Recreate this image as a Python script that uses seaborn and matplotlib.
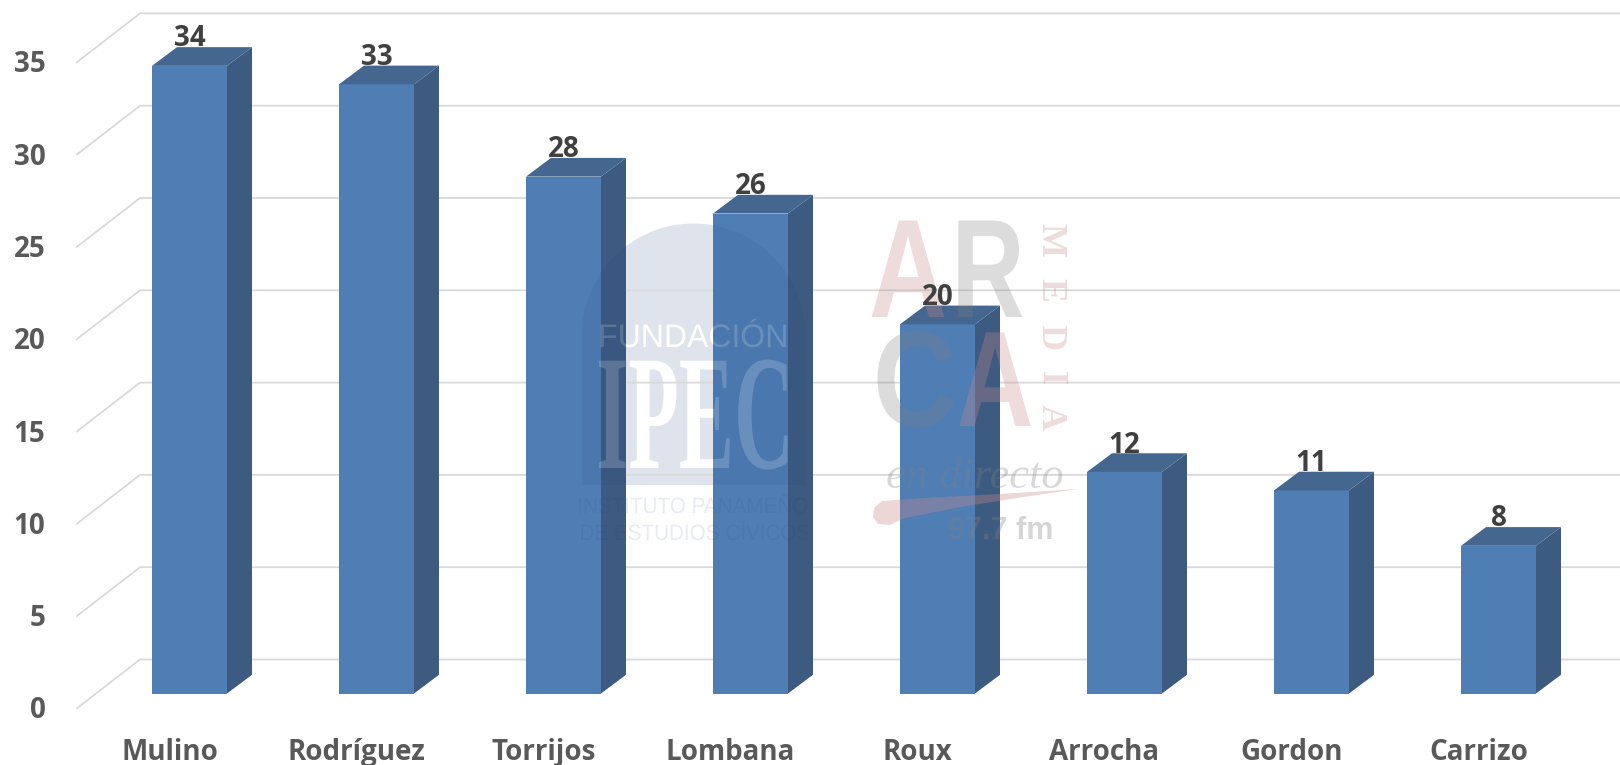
import numpy as np
import pandas as pd
import seaborn as sns
import matplotlib.pyplot as plt
import matplotlib.patheffects as pe
from matplotlib.patches import Polygon
from matplotlib.path import Path
from matplotlib.transforms import Affine2D, IdentityTransform, ScaledTranslation

candidatos = ['Mulino', 'Rodríguez', 'Torrijos', 'Lombana', 'Roux', 'Arrocha', 'Gordon', 'Carrizo']
valores = [34, 33, 28, 26, 20, 12, 11, 8]
ticks_y = [0, 5, 10, 15, 20, 25, 30, 35]

W, H, DPI = 1620, 765, 100
PX_X = 187.0    # pixeles entre barras
PX_Y = 18.46    # pixeles por unidad
DX, DY = 25 / PX_X, 18.7 / PX_Y     # fondo de cada barra
PARED_Y = 34 / PX_Y
FRENTE_Y = 15.5 / PX_Y
FRENTE_X, PARED_X = (76 - 189.5) / PX_X, (140 - 189.5) / PX_X

C_FRENTE, C_LADO, C_TOPE = '#4f7eb5', '#3d5a80', '#44668f'
C_GRID = '#d9d9d9'


class Squeeze(pe.AbstractPathEffect):
    # estrecha el texto en horizontal alrededor de cx (pixeles)
    def __init__(self, sx, cx):
        super().__init__()
        self.sx, self.cx = sx, cx

    def draw_path(self, renderer, gc, tpath, affine, rgbFace=None):
        t = affine + Affine2D().translate(-self.cx, 0).scale(self.sx, 1).translate(self.cx, 0)
        renderer.draw_path(gc, tpath, t, rgbFace)


sns.set_theme(style='white')
plt.rcParams['font.family'] = ['Open Sans', 'DejaVu Sans']

fig = plt.figure(figsize=(W / DPI, H / DPI), dpi=DPI)
ax = fig.add_axes([76 / W, 45 / H, (W - 76) / W, 720 / H])

df = pd.DataFrame({'candidato': candidatos, 'valor': valores})
sns.barplot(data=df, x='candidato', y='valor', color=C_FRENTE, saturation=1, width=75 / PX_X,
            errorbar=None, zorder=3, ax=ax)
ax.set_xlim(FRENTE_X, (W - 189.5) / PX_X)
ax.set_ylim(-(720 - 693.5) / PX_Y, 693.5 / PX_Y)
ax.set_xlabel('')
ax.set_ylabel('')
sns.despine(ax=ax, left=True, bottom=True, top=True, right=True)

# paredes del grafico 3D
for v in ticks_y:
    ax.plot([FRENTE_X, PARED_X, ax.get_xlim()[1]], [v - FRENTE_Y, v + PARED_Y, v + PARED_Y],
            color=C_GRID, lw=1.3, zorder=1, solid_capstyle='butt')

# caras laterales y superiores de las barras
caras = []
for p in ax.patches:
    x0, x1, h = p.get_x(), p.get_x() + p.get_width(), p.get_height()
    p.set_linewidth(0)
    lado = [(x1, 0), (x1 + DX, DY), (x1 + DX, h + DY), (x1, h)]
    tope = [(x0, h), (x0 + DX, h + DY), (x1 + DX, h + DY), (x1, h)]
    frente = [(x0, 0), (x1, 0), (x1, h), (x0, h)]
    ax.add_patch(Polygon(lado, color=C_LADO, lw=0, zorder=3))
    ax.add_patch(Polygon(tope, color=C_TOPE, lw=0, zorder=3))
    caras += [Path(frente + frente[:1], closed=True), Path(lado + lado[:1], closed=True)]
    ax.annotate(f'{h:.0f}', (p.get_x() + p.get_width() / 2, h), xytext=(0, 14), textcoords='offset points',
                ha='center', va='baseline', fontsize=20, fontweight='bold', color='#404040', zorder=8)
zona_barras = Path.make_compound_path(*caras)

ax.set_yticks(ticks_y)
ax.tick_params(axis='y', length=0, pad=22, labelsize=20, labelcolor='#595959')
ax.tick_params(axis='x', length=0, pad=13, labelsize=20, labelcolor='#595959')
for lab in ax.get_yticklabels():
    lab.set_fontweight('bold')
    lab.set_transform(lab.get_transform() + ScaledTranslation(0, -14 / DPI, fig.dpi_scale_trans))
for lab in ax.get_xticklabels():
    lab.set_fontweight('bold')
    lab.set_transform(lab.get_transform() + ScaledTranslation(-20 / DPI, 0, fig.dpi_scale_trans))


# marcas de agua, en pixeles de la imagen
def marca(x, y, s, sx=None, clip=False, **kw):
    t = ax.text(x, H - y, s, transform=IdentityTransform(), ha='center', va='baseline', **kw)
    if sx:
        t.set_path_effects([Squeeze(sx, x)])
    if clip:
        t.set_clip_path(zona_barras, ax.transData)
        t.set_clip_on(True)
    return t


ang = np.linspace(np.pi, 0, 60)
arco = np.column_stack([693.5 + 111.5 * np.cos(ang), H - 335 + 111.5 * np.sin(ang)])
arco = np.vstack([arco, [805, H - 485], [582, H - 485]])
ax.add_patch(Polygon(arco, closed=True, transform=IdentityTransform(), color='#dfe4ec', lw=0, zorder=0.5))
encima = Polygon(arco, closed=True, transform=IdentityTransform(), color='#1f3f77', alpha=0.11, lw=0, zorder=4)
ax.add_patch(encima)
encima.set_clip_path(zona_barras, ax.transData)

for z, alfa, clip in [(0.8, 1, False), (5, 0.18, True)]:
    marca(693, 347, 'FUNDACIÓN', sx=0.98, clip=clip, fontsize=23.5, family='Liberation Sans',
          color='white', alpha=alfa, zorder=z)
    marca(695, 468, 'IPEC', sx=0.505, clip=clip, fontsize=118, family='Liberation Serif', fontweight='bold',
          color='white', alpha=alfa, zorder=z)
marca(693, 513, 'INSTITUTO PANAMEÑO', sx=0.93, fontsize=16, family='Liberation Sans',
      color='#1f3f77', alpha=0.1, zorder=5)
marca(695, 540, 'DE ESTUDIOS CÍVICOS', sx=0.93, fontsize=16, family='Liberation Sans',
      color='#1f3f77', alpha=0.1, zorder=5)

ROSA, GRIS = '#c98a8a', '#808080'
marca(908, 317, 'A', sx=0.77, fontsize=101, family='Liberation Sans', fontweight='bold', color=ROSA, alpha=0.3, zorder=5)
marca(988, 317, 'R', sx=0.72, fontsize=101, family='Liberation Sans', fontweight='bold', color=GRIS, alpha=0.27, zorder=5)
marca(915, 426, 'C', sx=0.86, fontsize=98, family='Liberation Sans', fontweight='bold', color=GRIS, alpha=0.27, zorder=5)
marca(995, 426, 'A', sx=0.78, fontsize=98, family='Liberation Sans', fontweight='bold', color=ROSA, alpha=0.3, zorder=5)
for y, letra in zip([240, 290, 337, 378, 417], 'MEDIA'):
    ax.text(1050, H - y, letra, transform=IdentityTransform(), rotation=-90, ha='center', va='center',
            fontsize=26, family='Liberation Serif', fontweight='bold', color=ROSA, alpha=0.3, zorder=5)
marca(975, 488, 'en directo', fontsize=32, family='Liberation Serif', style='italic',
      color=GRIS, alpha=0.3, zorder=5)
marca(1001, 539, '97.7 fm', fontsize=22, family='Liberation Sans', fontweight='bold',
      color=GRIS, alpha=0.33, zorder=5)
trazo = [(1078, 489), (1000, 494), (925, 498), (882, 501), (874, 508), (873, 517), (878, 524), (890, 525),
         (905, 518), (960, 507), (1030, 496)]
ax.add_patch(Polygon([(x, H - y) for x, y in trazo], closed=True, transform=IdentityTransform(),
                     color=ROSA, alpha=0.35, lw=0, zorder=5))

fig.savefig('out.png', dpi=DPI)
